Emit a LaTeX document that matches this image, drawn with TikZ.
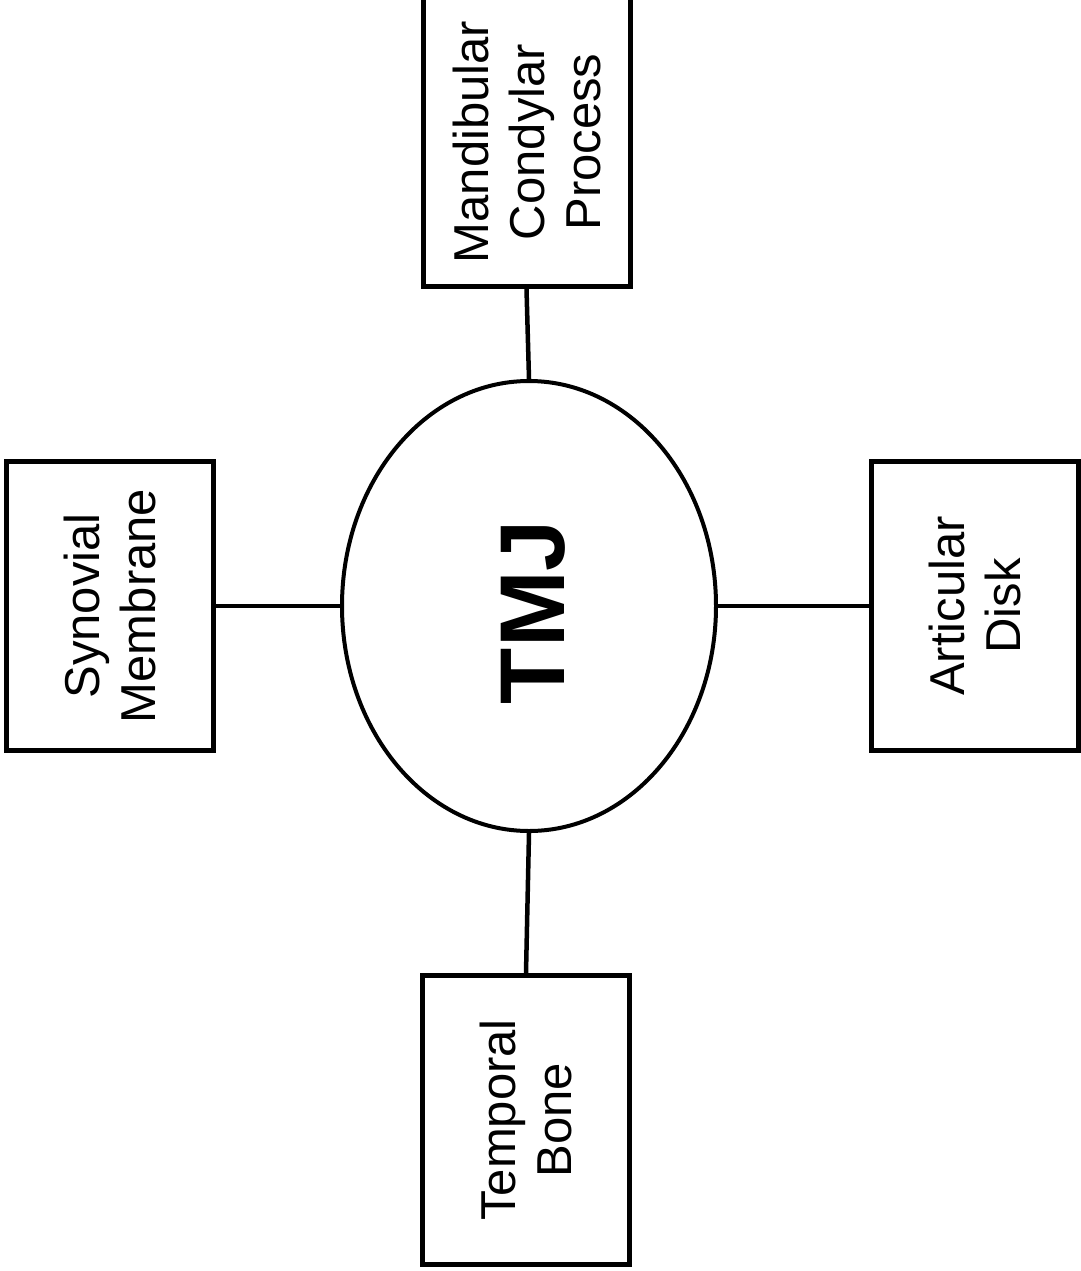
\documentclass[tikz,border=0pt]{standalone}
\usepackage{fontspec}
\setmainfont{Liberation Sans}
\usetikzlibrary{shapes.geometric}
\begin{document}
\begin{tikzpicture}[x=1pt,y=-1pt,
  boxn/.style={draw,line width=5pt,minimum width=289pt,minimum height=207pt,rotate=90,align=center,font=\fontsize{49}{56}\selectfont,inner sep=0pt},
  conn/.style={line width=4.5pt}]
\useasboundingbox (0,0) rectangle (1081,1271);
\node[draw,ellipse,line width=4pt,minimum width=374pt,minimum height=450pt,inner sep=0pt] (tmj) at (529,606) {};
\node[rotate=90,font=\fontsize{92}{92}\selectfont\bfseries] (tmjt) at (533,612) {TMJ};
\node[boxn] (mcp) at (526.5,142) {Mandibular\\Condylar\\Process};
\node[boxn] (syn) at (110,606) {Synovial\\Membrane};
\node[boxn] (art) at (975,606) {Articular\\Disk};
\node[boxn] (tem) at (526,1120) {Temporal\\Bone};
\draw[conn] (mcp.west) -- (tmj.north);
\draw[conn] (tmj.south) -- (tem.east);
\draw[conn] (syn.south) -- (tmj.west);
\draw[conn] (tmj.east) -- (art.north);
\end{tikzpicture}
\end{document}
